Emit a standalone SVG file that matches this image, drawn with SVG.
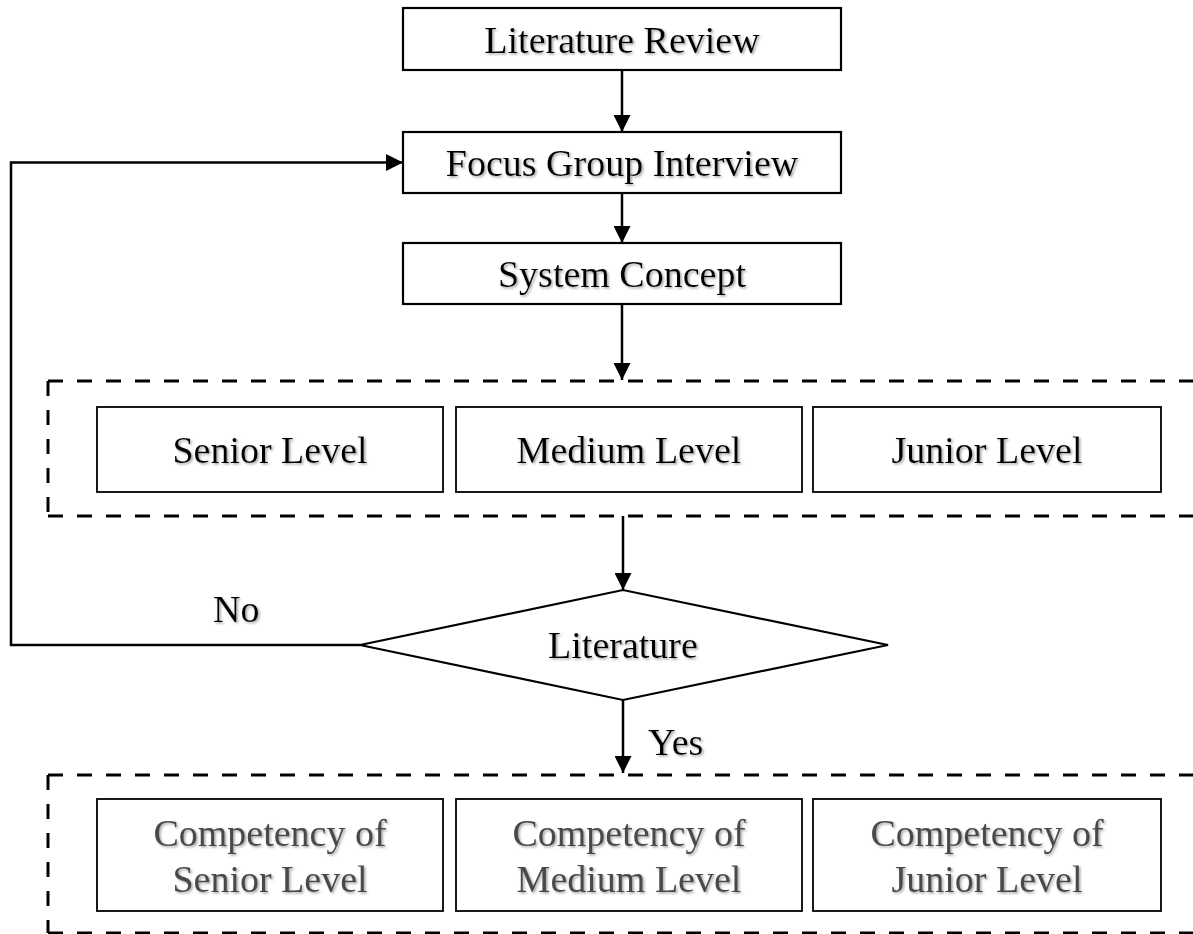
<svg xmlns="http://www.w3.org/2000/svg" width="1193" height="934" viewBox="0 0 1193 934">
<defs>
<marker id="arrow" viewBox="0 0 17 17" refX="17" refY="8.5" markerWidth="17" markerHeight="17" markerUnits="userSpaceOnUse" orient="auto">
<path d="M0,0 L17,8.5 L0,17 z" fill="#000"/>
</marker>
<filter id="shadow" x="-10%" y="-20%" width="120%" height="150%">
<feDropShadow dx="1.5" dy="1.5" stdDeviation="0.8" flood-color="#9a9a9a" flood-opacity="0.9"/>
</filter>
</defs>
<style>
.box{fill:#fff;stroke:#000;stroke-width:2.2}
.ibox{fill:#fff;stroke:#000;stroke-width:1.8}
.dash{fill:none;stroke:#000;stroke-width:3;stroke-dasharray:15 14}
.conn{fill:none;stroke:#000;stroke-width:2.5}
.t{font-family:"Liberation Serif","Times New Roman",serif;font-size:38px;fill:#000;text-anchor:middle;filter:url(#shadow)}
.g{fill:#4a4a4a}
.lbl{text-anchor:start}
</style>
<rect width="1193" height="934" fill="#fff"/>

<g id="group1">
<line class="dash" x1="48" y1="381" x2="1200" y2="381"/>
<line class="dash" x1="48" y1="516" x2="1200" y2="516"/>
<line class="dash" x1="48" y1="381" x2="48" y2="516"/>
</g>
<g id="group2">
<line class="dash" x1="48" y1="775" x2="1200" y2="775"/>
<line class="dash" x1="48" y1="933" x2="1200" y2="933"/>
<line class="dash" x1="48" y1="775" x2="48" y2="933"/>
</g>

<g id="connectors">
<line class="conn" x1="622" y1="70" x2="622" y2="132" marker-end="url(#arrow)"/>
<line class="conn" x1="622" y1="193" x2="622" y2="243" marker-end="url(#arrow)"/>
<line class="conn" x1="622" y1="304" x2="622" y2="380" marker-end="url(#arrow)"/>
<line class="conn" x1="623" y1="516" x2="623" y2="590" marker-end="url(#arrow)"/>
<line class="conn" x1="623" y1="700" x2="623" y2="773" marker-end="url(#arrow)"/>
<path class="conn" d="M360,645 H11 V162.5 H403" marker-end="url(#arrow)"/>
<text class="t lbl" x="213" y="622">No</text>
<text class="t lbl" x="648" y="755">Yes</text>
</g>

<g id="literature-review">
<rect class="box" x="403" y="8" width="438" height="62"/>
<text class="t" x="622" y="53">Literature Review</text>
</g>
<g id="focus-group">
<rect class="box" x="403" y="132" width="438" height="61"/>
<text class="t" x="622" y="176">Focus Group Interview</text>
</g>
<g id="system-concept">
<rect class="box" x="403" y="243" width="438" height="61"/>
<text class="t" x="622" y="287">System Concept</text>
</g>

<g id="senior-level">
<rect class="ibox" x="97" y="407" width="346" height="85"/>
<text class="t" x="270" y="463">Senior Level</text>
</g>
<g id="medium-level">
<rect class="ibox" x="456" y="407" width="346" height="85"/>
<text class="t" x="629" y="463">Medium Level</text>
</g>
<g id="junior-level">
<rect class="ibox" x="813" y="407" width="348" height="85"/>
<text class="t" x="987" y="463">Junior Level</text>
</g>

<g id="decision">
<polygon class="box" points="360,645 623,590 888,645 623,700"/>
<text class="t" x="623" y="658">Literature</text>
</g>

<g id="comp-senior">
<rect class="ibox" x="97" y="799" width="346" height="112"/>
<text class="t g" x="270" y="846">Competency of</text>
<text class="t g" x="270" y="892">Senior Level</text>
</g>
<g id="comp-medium">
<rect class="ibox" x="456" y="799" width="346" height="112"/>
<text class="t g" x="629" y="846">Competency of</text>
<text class="t g" x="629" y="892">Medium Level</text>
</g>
<g id="comp-junior">
<rect class="ibox" x="813" y="799" width="348" height="112"/>
<text class="t g" x="987" y="846">Competency of</text>
<text class="t g" x="987" y="892">Junior Level</text>
</g>
</svg>
